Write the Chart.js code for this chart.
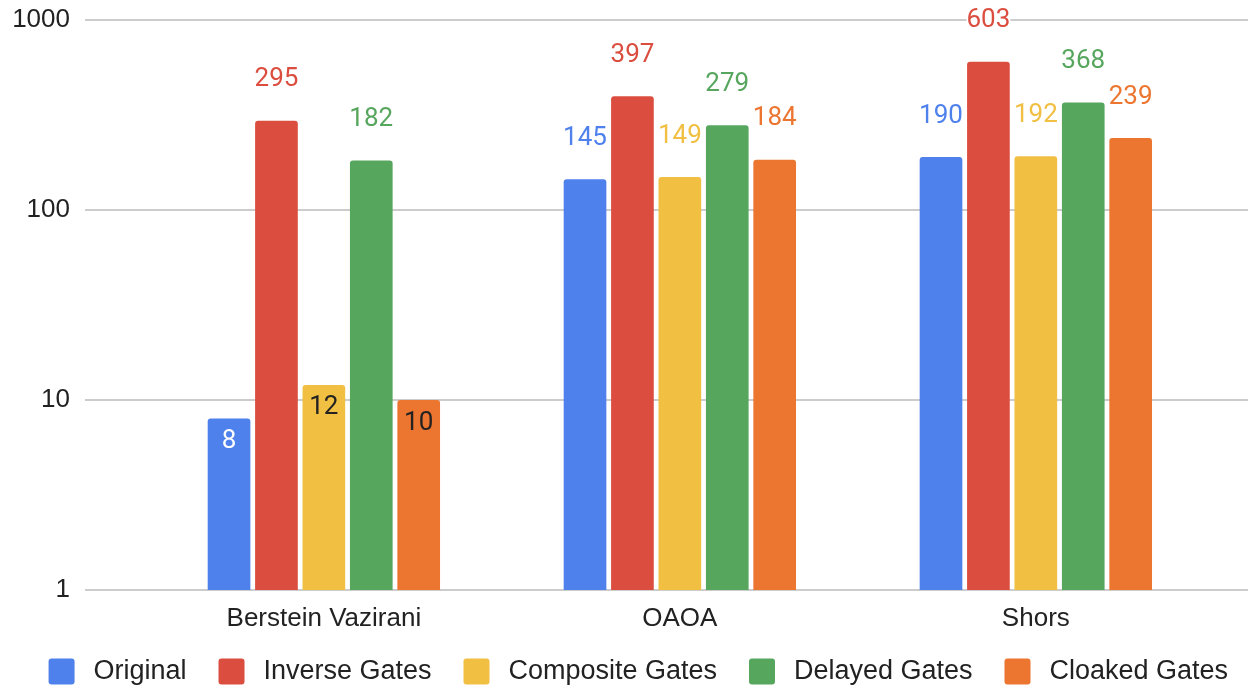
<!DOCTYPE html>
<html>
<head>
<meta charset="utf-8">
<script src="https://cdn.jsdelivr.net/npm/chart.js@4.4.1/dist/chart.umd.min.js"></script>
<style>
	html, body { margin: 0; padding: 0; background: #fff; overflow: hidden; }
	canvas { display: block; }
</style>
</head>
<body>
<canvas id="canvas-element" width="1248" height="695"></canvas>
<script>
const kCategories = ["Berstein Vazirani", "QAOA", "Shors"];
const kOriginal = [8, 145, 190];
const kInverseGates = [295, 397, 603];
const kCompositeGates = [12, 149, 192];
const kDelayedGates = [182, 279, 368];
const kCloakedGates = [10, 184, 239];
const kYTicks = [1, 10, 100, 1000];

const kSeries = [
	{label: "Original", data: kOriginal, col: "#4f81ec", inside: "#ffffff"},
	{label: "Inverse Gates", data: kInverseGates, col: "#db4d3e", inside: "#222222"},
	{label: "Composite Gates", data: kCompositeGates, col: "#f1bf42", inside: "#222222"},
	{label: "Delayed Gates", data: kDelayedGates, col: "#57a65e", inside: "#222222"},
	{label: "Cloaked Gates", data: kCloakedGates, col: "#ec7530", inside: "#222222"}
];

const kInsideLimit = 20; // values below this get their label inside the bar
const kAxisFont = "'Liberation Sans', Arial, sans-serif";

// labels above (or inside) each bar, drawn with a white backdrop so gridlines don't cross them
const barLabels = {
	id: "barLabels",
	afterDatasetsDraw(chart) {
		const ctx = chart.ctx;
		ctx.save();
		ctx.font = "26px Roboto";
		ctx.textAlign = "center";
		ctx.textBaseline = "middle";
		chart.data.datasets.forEach((ds, i) => {
			chart.getDatasetMeta(i).data.forEach((bar, j) => {
				const v = ds.data[j];
				const text = String(v);
				if (v < kInsideLimit) {
					ctx.fillStyle = ds.insideColor;
					ctx.fillText(text, bar.x, bar.y + 23);
				} else {
					const y = bar.y - 41;
					const w = ctx.measureText(text).width;
					ctx.fillStyle = "#ffffff";
					ctx.fillRect(bar.x - w / 2, y - 10, w, 20);
					ctx.fillStyle = ds.backgroundColor;
					ctx.fillText(text, bar.x, y);
				}
			});
		});
		ctx.restore();
	}
};

// the legend row sits a little right of centre in the original
const legendShift = {
	id: "legendShift",
	afterLayout(chart) {
		chart.legend.left += 12;
		chart.legend.right += 12;
	}
};

Chart.defaults.font.family = kAxisFont;
Chart.defaults.font.size = 26;
Chart.defaults.color = "#222222";

const context = document.getElementById("canvas-element").getContext("2d");

new Chart(context, {
	type: "bar",
	data: {
		labels: kCategories,
		datasets: kSeries.map((s) => ({
			label: s.label,
			data: s.data,
			backgroundColor: s.col,
			insideColor: s.inside,
			borderRadius: {topLeft: 3, topRight: 3},
			borderSkipped: "start",
			categoryPercentage: 0.666,
			barPercentage: 0.9
		}))
	},
	options: {
		responsive: false,
		animation: false,
		layout: {padding: {top: 20, left: 0, right: 0, bottom: 0}},
		scales: {
			x: {
				grid: {display: false},
				border: {display: false},
				ticks: {padding: 5},
				afterBuildTicks: (scale) => {
					// groups sit inside a wider plot than the category bands
					scale._startValue = -0.671;
					scale._valueRange = 3.267;
				},
				afterFit: (scale) => {
					scale.height = 36;
				}
			},
			y: {
				type: "logarithmic",
				min: 1,
				max: 1000,
				afterBuildTicks: (scale) => {
					scale.ticks = kYTicks.map((v) => ({value: v}));
				},
				ticks: {
					padding: 15,
					callback: (v) => String(v)
				},
				grid: {color: "#cccccc", lineWidth: 2, drawTicks: false},
				border: {display: false},
				afterFit: (scale) => {
					scale.width = 85;
					scale.paddingTop = 0;
					scale.paddingBottom = 0;
				}
			}
		},
		plugins: {
			legend: {
				position: "bottom",
				align: "end",
				labels: {
					font: {size: 27},
					boxWidth: 26,
					boxHeight: 26,
					padding: 32,
					useBorderRadius: true,
					borderRadius: 3,
					generateLabels: (chart) => {
						// a thin space widens the gap between swatch and text
						const items = Chart.defaults.plugins.legend.labels.generateLabels(chart);
						items.forEach((it) => { it.text = "\u2009" + it.text; });
						return items;
					}
				}
			},
			tooltip: {enabled: false}
		}
	},
	plugins: [barLabels, legendShift]
});
</script>
</body>
</html>
